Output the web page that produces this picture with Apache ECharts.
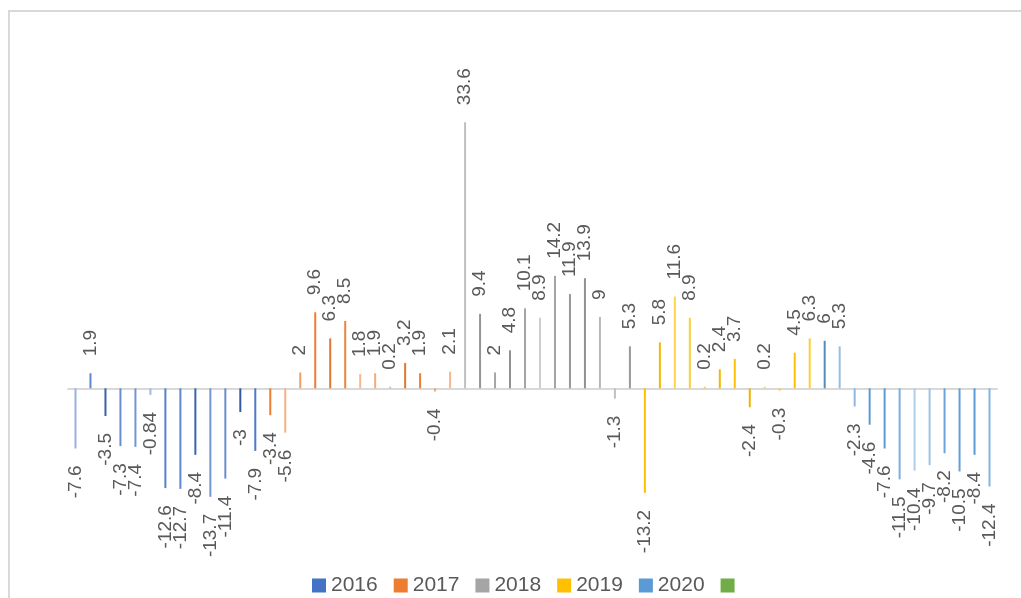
<!DOCTYPE html>
<html>
<head>
<meta charset="utf-8">
<style>
  html, body { margin: 0; padding: 0; background: #fff; }
  #bar { width: 1021px; height: 598px; }
</style>
<script src="https://cdn.jsdelivr.net/npm/echarts@6/dist/echarts.min.js"></script>
</head>
<body>
<div id="bar"></div>
<script>
// 各年份的数值（从左到右）
var years = ['2016', '2017', '2018', '2019', '2020'];
var v2016 = [-7.6, 1.9, -3.5, -7.3, -7.4, -0.84, -12.6, -12.7, -8.4, -13.7, -11.4, -3, -7.9];
var v2017 = [-3.4, -5.6, 2, 9.6, 6.3, 8.5, 1.8, 1.9, 0.2, 3.2, 1.9, -0.4, 2.1];
var v2018 = [33.6, 9.4, 2, 4.8, 10.1, 8.9, 14.2, 11.9, 13.9, 9, -1.3, 5.3];
var v2019 = [-13.2, 5.8, 11.6, 8.9, 0.2, 2.4, 3.7, -2.4, 0.2, -0.3, 4.5, 6.3];
var v2020 = [6, 5.3, -2.3, -4.6, -7.6, -11.5, -10.4, -9.7, -8.2, -10.5, -8.4, -12.4];
var yearValues = [v2016, v2017, v2018, v2019, v2020];

// 颜色（每根柱子的深浅不同）
var baseColors = ['#4472C4', '#ED7D31', '#A5A5A5', '#FFC000', '#5B9BD5'];
var shades = [
    [0.45, 0.15, -0.15, 0.2, 0.25, 0.5, 0.1, 0.15, -0.12, 0.25, 0.2, -0.2, 0.05],
    [0, 0.4, 0.25, 0, -0.05, 0.05, 0.45, 0.35, 0.4, -0.05, 0, 0.3, 0.45],
    [0.3, -0.1, 0, -0.12, 0, 0.45, 0, -0.08, -0.12, 0.2, 0.3, -0.08],
    [0, -0.04, 0.3, 0.2, 0.2, -0.04, 0, -0.06, 0.3, 0.2, 0, 0.2],
    [-0.1, 0.35, 0.3, 0, 0, 0.2, 0.5, 0.4, 0.1, 0.05, 0, 0.25]
];

function shade(hex, f) {
    var r = parseInt(hex.substr(1, 2), 16), g = parseInt(hex.substr(3, 2), 16), b = parseInt(hex.substr(5, 2), 16);
    var t = f > 0 ? 255 : 0, p = Math.abs(f);
    r = Math.round(r + (t - r) * p); g = Math.round(g + (t - g) * p); b = Math.round(b + (t - b) * p);
    return 'rgb(' + r + ',' + g + ',' + b + ')';
}

var categories = [];
yearValues.forEach(function (arr, k) {
    arr.forEach(function (v, i) { categories.push(years[k] + '-' + (i + 1)); });
});

var series = [];
var offset = 0;
yearValues.forEach(function (arr, k) {
    var data = categories.map(function () { return '-'; });
    arr.forEach(function (v, i) {
        var pos = v >= 0;
        data[offset + i] = {
            value: v,
            itemStyle: { color: shade(baseColors[k], shades[k][i]) },
            label: {
                position: pos ? 'top' : 'bottom',
                align: pos ? 'left' : 'right'
            }
        };
    });
    offset += arr.length;
    series.push({
        name: years[k],
        type: 'bar',
        stack: 'all',
        barWidth: 2,
        data: data,
        itemStyle: { color: baseColors[k] },
        label: {
            show: true,
            rotate: 90,
            verticalAlign: 'middle',
            distance: 17,
            fontFamily: 'Liberation Sans',
            fontSize: 19,
            color: '#595959'
        }
    });
});
// 图例中最后一个绿色色块（无名称）
series.push({ name: ' ', type: 'bar', stack: 'all', data: [], itemStyle: { color: '#70AD47' } });

var myChart = echarts.init(document.getElementById('bar'));
var option = {
    animation: false,
    graphic: [{
        type: 'rect',
        shape: { x: 9, y: 11, width: 1100, height: 700 },
        style: { fill: 'none', stroke: '#d9d9d9', lineWidth: 2 },
        silent: true
    }],
    grid: { left: 68, right: 24, top: 71.5, bottom: 51.3 },
    legend: {
        data: years.concat([' ']),
        left: 307,
        top: 570,
        itemWidth: 14,
        itemHeight: 14,
        itemGap: 16,
        icon: 'rect',
        textStyle: {
            fontFamily: 'Liberation Sans', fontSize: 21, color: '#595959',
            padding: 0, backgroundColor: 'transparent', textBorderWidth: 0
        }
    },
    xAxis: {
        type: 'category',
        data: categories,
        axisLine: { onZero: true, lineStyle: { color: '#d9d9d9', width: 2 } },
        axisTick: { show: false },
        axisLabel: { show: false },
        splitLine: { show: false }
    },
    yAxis: {
        type: 'value',
        min: -20,
        max: 40,
        interval: 10,
        show: false,
        splitLine: { show: false }
    },
    series: series
};
myChart.setOption(option);
</script>
</body>
</html>
